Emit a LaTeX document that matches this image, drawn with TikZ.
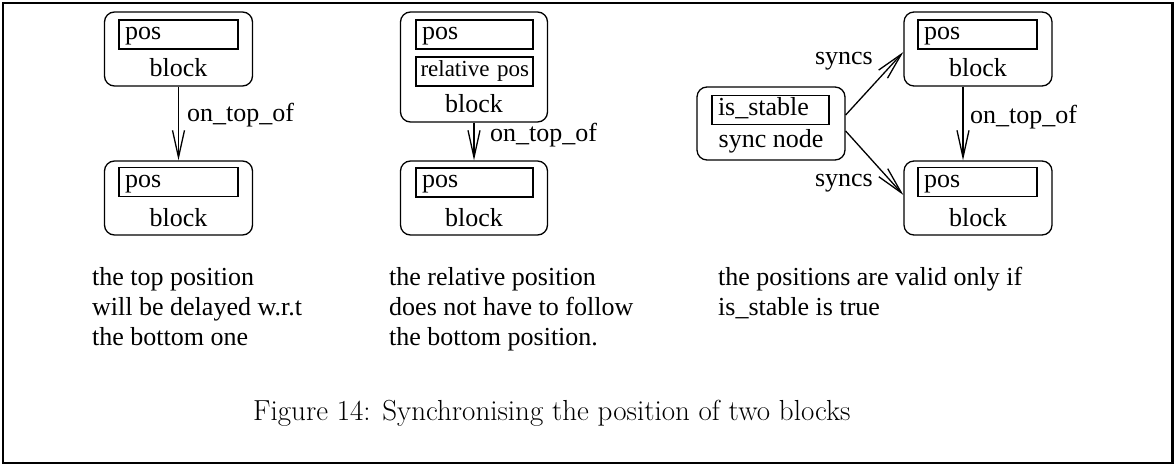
\documentclass[tikz,border=0pt]{standalone}
\usepackage{fontspec}
\setmainfont{Liberation Serif}
\newfontfamily\capfont{Latin Modern Roman}
\usetikzlibrary{arrows.meta}

\begin{document}
\begin{tikzpicture}[x=1pt, y=-1pt,
  font=\fontsize{26}{30}\selectfont,
  blk/.style={draw, line width=1.3pt, rounded corners=10pt, minimum width=148pt, minimum height=74pt, inner sep=0pt},
  fld/.style={draw, line width=1.3pt, minimum height=29pt, text width=107pt, inner xsep=6pt, inner ysep=0pt,
              text height=17pt, text depth=6pt, align=left},
  lbl/.style={inner sep=0pt},
  ln/.style={inner sep=0pt, anchor=base west},
  rel/.style={line width=1.3pt, -{Straight Barb[length=27pt, width=12pt, line width=1.3pt]}}
]
\useasboundingbox (0,0) rectangle (1174,465);
\draw[line width=2.5pt] (3,3) rectangle (1172.7,462.8);

% first pair of blocks
\node[blk] (b1) at (178.5,49) {};
\node[fld] (b1p) at (178.5,34.5) {pos};
\node[lbl, anchor=base] (b1l) at (178.5,77) {block};
\node[blk] (b2) at (178.5,198) {};
\node[fld] (b2p) at (178.5,182) {pos};
\node[lbl, anchor=base] (b2l) at (178.5,226) {block};
\draw[rel] (b1) -- (b2);
\node[lbl, anchor=west] (t1) at (187,115) {on\_top\_of};

% second pair, with relative position
\node[blk, minimum width=147pt, minimum height=110pt] (b3) at (474,67) {};
\node[fld, text width=105pt] (b3p) at (474.5,34.5) {pos};
\node[fld, text width=108pt, inner xsep=4.5pt, font=\fontsize{23}{26}\selectfont] (b3r) at (474.5,71.5) {relative~pos};
\node[lbl, anchor=base] (b3l) at (474,113) {block};
\node[blk, minimum width=147pt] (b4) at (474,198) {};
\node[fld, text width=105pt] (b4p) at (474.5,182.5) {pos};
\node[lbl, anchor=base] (b4l) at (474,226) {block};
\draw[rel] (b3) -- (b4);
\node[lbl, anchor=west] (t2) at (490,135) {on\_top\_of};

% sync node and the two blocks it synchronises
\node[blk, minimum height=73pt] (s) at (771,123.5) {};
\node[fld, text width=105pt] (sp) at (770.5,110) {is\_stable};
\node[lbl, anchor=base] (sl) at (771,148) {sync node};
\node[blk] (r1) at (978,49) {};
\node[fld] (r1p) at (977.5,34.5) {pos};
\node[lbl, anchor=base] (r1l) at (978,77) {block};
\node[blk] (r2) at (978,198) {};
\node[fld] (r2p) at (977.5,182) {pos};
\node[lbl, anchor=base] (r2l) at (978,226) {block};
\draw[rel] ([xshift=-15pt]r1.south) -- ([xshift=-15pt]r2.north);
\node[lbl, anchor=west] (t3) at (970,117) {on\_top\_of};
\draw[rel] ([yshift=8.5pt]s.east) -- ([yshift=-3pt]r1.west);
\draw[rel] ([yshift=-7.5pt]s.east) -- ([yshift=3pt]r2.west);
\node[lbl, anchor=east] (y1) at (873,61) {syncs};
\node[lbl, anchor=east] (y2) at (873,183) {syncs};

% explanations under each example
\node[ln] (p1a) at (92,285) {the top position};
\node[ln] (p1b) at (92,315) {will be delayed w.r.t};
\node[ln] (p1c) at (92,345) {the bottom one};
\node[ln] (p2a) at (389,285) {the relative position};
\node[ln] (p2b) at (389,315) {does not have to follow};
\node[ln] (p2c) at (389,345) {the bottom position.};
\node[ln] (p3a) at (718,285) {the positions are valid only if};
\node[ln] (p3b) at (718,315) {is\_stable is true};

% caption
\node[ln, font=\capfont\fontsize{29}{34}\selectfont] (cap) at (253,420) {Figure 14: Synchronising the position of two blocks};
\end{tikzpicture}
\end{document}
